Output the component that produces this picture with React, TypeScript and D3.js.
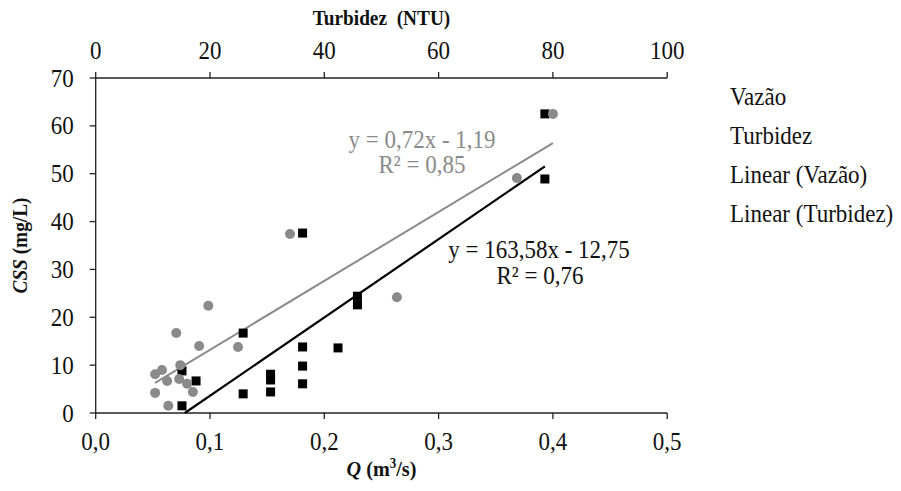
import React from 'react';
import * as d3 from 'd3';

// Vazão series: Q (m³/s) vs CSS (mg/L)
const vazaoQ = [0.0755, 0.0755, 0.0878, 0.129, 0.129, 0.153, 0.153, 0.153, 0.181, 0.181, 0.181, 0.181, 0.212, 0.229, 0.229, 0.393, 0.393];
const vazaoCss = [1.5, 8.8, 6.7, 16.7, 4.0, 8.1, 6.9, 4.4, 37.6, 13.8, 9.8, 6.1, 13.6, 24.4, 22.6, 62.5, 48.9];

// Turbidez series: NTU vs CSS (mg/L)
const turbNtu = [10.4, 11.6, 12.5, 10.4, 12.7, 14.1, 14.8, 14.6, 16.0, 17.0, 18.1, 19.7, 24.9, 34.0, 52.7, 73.7, 80.0];
const turbCss = [8.1, 9.0, 6.7, 4.2, 1.5, 16.7, 10.0, 7.1, 6.1, 4.4, 14.0, 22.4, 13.8, 37.4, 24.2, 49.1, 62.5];

// trendline coefficients (slope, intercept)
const vazaoFit = [163.58, -12.75];
const turbFit = [0.72, -1.19];

const qTicks = [0, 0.1, 0.2, 0.3, 0.4, 0.5];
const ntuTicks = [0, 20, 40, 60, 80, 100];
const cssTicks = [0, 10, 20, 30, 40, 50, 60, 70];
const legendLabels = ['Vazão', 'Turbidez', 'Linear (Vazão)', 'Linear (Turbidez)'];

const GRAY = '#8a8a8a';
const FONT = '"Liberation Serif", "Times New Roman", serif';

// condensed text (the source font is narrow and tall)
function T(props: any) {
  const { x, y, sx = 0.92, rotate, children, ...rest } = props;
  const tr = `translate(${x},${y})${rotate ? ` rotate(${rotate})` : ''} scale(${sx},1)`;
  return <text transform={tr} {...rest}>{children}</text>;
}

export default function App() {
  const left = 95.7, right = 667.2, top = 78, bottom = 413;

  const x = d3.scaleLinear().domain([0, 0.5]).range([left, right]);
  const xTop = d3.scaleLinear().domain([0, 100]).range([left, right]);
  const y = d3.scaleLinear().domain([0, 70]).range([bottom, top]);

  const fmt = (v: number) => v.toFixed(1).replace('.', ',');

  // trend line from min to max x, clipped at y = 0
  const trend = (xs: number[], fit: number[]) => {
    let x0 = d3.min(xs) as number;
    const x1 = d3.max(xs) as number;
    if (fit[0] * x0 + fit[1] < 0) x0 = -fit[1] / fit[0];
    return [[x0, fit[0] * x0 + fit[1]], [x1, fit[0] * x1 + fit[1]]];
  };
  const vLine = trend(vazaoQ, vazaoFit);
  const tLine = trend(turbNtu, turbFit);

  const axisStyle = { stroke: '#222', strokeWidth: 1.3 };

  return (
    <svg width={901} height={491} style={{ position: 'absolute', left: 0, top: 0, background: '#fff' }} fontFamily={FONT}>
      <rect width={901} height={491} fill="#fff" />

      {/* top axis (Turbidez) */}
      <line x1={left} x2={right} y1={top} y2={top} style={axisStyle} />
      {ntuTicks.map((t) => (
        <g key={'nt' + t}>
          <line x1={xTop(t)} x2={xTop(t)} y1={top} y2={top - 6} style={axisStyle} />
          <T x={xTop(t)} y={59} textAnchor="middle" fontSize={25} fill="#111">{t}</T>
        </g>
      ))}
      <T x={(left + right) / 2} y={25} textAnchor="middle" fontSize={21} fontWeight="bold" fill="#111" style={{ whiteSpace: 'pre' }}>Turbidez  (NTU)</T>

      {/* bottom axis (Q) */}
      <line x1={left} x2={right} y1={bottom} y2={bottom} style={axisStyle} />
      {qTicks.map((t) => (
        <g key={'q' + t}>
          <line x1={x(t)} x2={x(t)} y1={bottom} y2={bottom + 6} style={axisStyle} />
          <T x={x(t)} y={450} textAnchor="middle" fontSize={25} fill="#111">{fmt(t)}</T>
        </g>
      ))}
      <T x={(left + right) / 2} y={476} textAnchor="middle" fontSize={22} fontWeight="bold" fill="#111">
        <tspan fontStyle="italic">Q</tspan> (m<tspan fontSize={14} dy={-8}>3</tspan><tspan dy={8}>/s)</tspan>
      </T>

      {/* left axis (CSS) */}
      <line x1={left} x2={left} y1={top} y2={bottom} style={axisStyle} />
      {cssTicks.map((t) => (
        <g key={'c' + t}>
          <line x1={left - 6} x2={left} y1={y(t)} y2={y(t)} style={axisStyle} />
          <T x={left - 22} y={y(t) + 8.5} textAnchor="end" fontSize={25} fill="#111">{t}</T>
        </g>
      ))}
      <T x={27} y={(top + bottom) / 2} rotate={-90} textAnchor="middle" fontSize={21} fontWeight="bold" fill="#111">
        <tspan fontStyle="italic">CSS</tspan> (mg/L)
      </T>

      {/* trend lines */}
      <line x1={x(vLine[0][0])} y1={y(vLine[0][1])} x2={x(vLine[1][0])} y2={y(vLine[1][1])} stroke="#000" strokeWidth={2.2} />
      <line x1={xTop(tLine[0][0])} y1={y(tLine[0][1])} x2={xTop(tLine[1][0])} y2={y(tLine[1][1])} stroke={GRAY} strokeWidth={2} />

      {/* Vazão squares */}
      {vazaoQ.map((q, i) => (
        <rect key={'s' + i} x={x(q) - 4.5} y={y(vazaoCss[i]) - 4.5} width={9} height={9} fill="#000" />
      ))}
      {/* Turbidez circles */}
      {turbNtu.map((n, i) => (
        <circle key={'o' + i} cx={xTop(n)} cy={y(turbCss[i])} r={5} fill={GRAY} />
      ))}

      {/* equations */}
      <T x={422} y={148} textAnchor="middle" fontSize={25} fill={GRAY}>y = 0,72x - 1,19</T>
      <T x={422} y={173} textAnchor="middle" fontSize={25} fill={GRAY}>R² = 0,85</T>
      <T x={539} y={258} textAnchor="middle" fontSize={25} fill="#111">y = 163,58x - 12,75</T>
      <T x={540} y={284} textAnchor="middle" fontSize={25} fill="#111">R² = 0,76</T>

      {/* legend */}
      {legendLabels.map((l, i) => (
        <T key={l} x={730} y={105 + i * 39} fontSize={25} fill="#111">{l}</T>
      ))}
    </svg>
  );
}
